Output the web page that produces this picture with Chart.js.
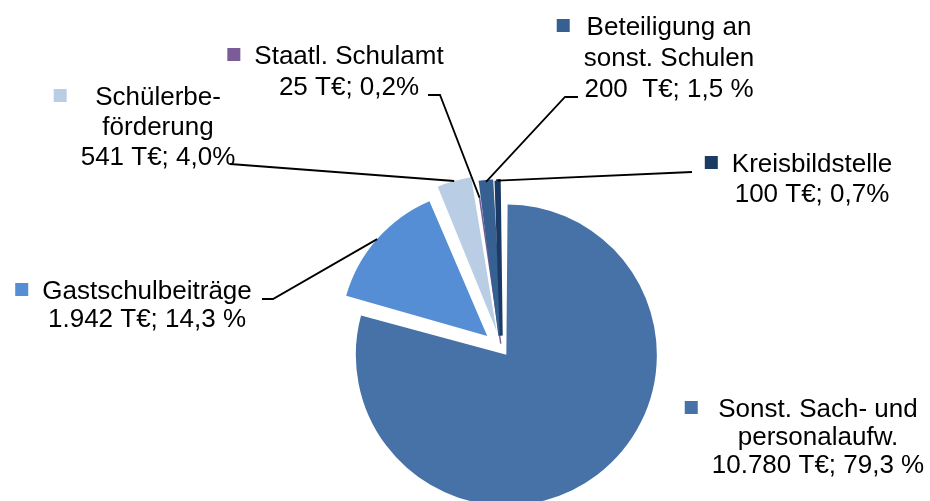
<!DOCTYPE html>
<html>
<head>
<meta charset="utf-8">
<script src="https://cdn.jsdelivr.net/npm/chart.js@4/dist/chart.umd.min.js"></script>
<style>
  html, body { margin: 0; padding: 0; background: #ffffff; overflow: hidden; }
  #wrap { position: relative; width: 930px; height: 501px; }
</style>
</head>
<body>
<div id="wrap"><canvas id="c" width="930" height="501"></canvas></div>
<script>
// ---- data ----
const categories = ['Sonst. Sach- und personalaufw.', 'Gastschulbeiträge', 'Schülerbeförderung',
                    'Staatl. Schulamt', 'Beteiligung an sonst. Schulen', 'Kreisbildstelle'];
const values = [10780, 1942, 541, 25, 200, 100];
const labelLines = [
  ['Sonst. Sach- und', 'personalaufw.', '10.780 T€; 79,3 %'],
  ['Gastschulbeiträge', '1.942 T€; 14,3 %'],
  ['Schülerbe-', 'förderung', '541 T€; 4,0%'],
  ['Staatl. Schulamt', '25 T€; 0,2%'],
  ['Beteiligung an', 'sonst. Schulen', '200  T€; 1,5 %'],
  ['Kreisbildstelle', '100 T€; 0,7%']
];
const colors = ['#4672A8', '#558ED5', '#B9CDE5', '#7A5C98', '#376092', '#1B3A64'];
const explode = [32, 76, 72, 20, 52, 52];

// ---- label layout (positions only) ----
const labelLayout = [
  { cx: 818, y: 417, lh: 28, leader: null },
  { cx: 147, y: 299, lh: 28, leader: [[262, 299], [273, 299]] },
  { cx: 158, y: 105, lh: 30, leader: [[230, 164]] },
  { cx: 349, y: 64, lh: 31, leader: [[428, 95], [440, 95]] },
  { cx: 669, y: 35, lh: 31, leader: [[578, 97], [565, 97]] },
  { cx: 812, y: 172, lh: 30, leader: [[692, 172]] }
];

const FONT = '26px "Liberation Sans", Arial, Helvetica, sans-serif';

const labelPlugin = {
  id: 'sliceLabels',
  afterDatasetsDraw(chart) {
    const ctx = chart.ctx;
    const meta = chart.getDatasetMeta(0);
    ctx.save();
    ctx.font = FONT;
    ctx.textAlign = 'center';
    ctx.textBaseline = 'alphabetic';
    meta.data.forEach((arc, i) => {
      const L = labelLayout[i];
      const lines = labelLines[i];
      // leader line to the slice rim at its mid angle
      if (L.leader) {
        const p = arc.getProps(['x', 'y', 'startAngle', 'endAngle', 'outerRadius', 'circumference'], true);
        const off = (arc.options.offset || 0) / 4;
        const fix = 1 - Math.sin(Math.min(Math.PI, p.circumference));
        const mid = (p.startAngle + p.endAngle) / 2;
        const cxA = p.x + Math.cos(mid) * off;
        const cyA = p.y + Math.sin(mid) * off;
        const r = p.outerRadius + off * fix;
        const ax = cxA + Math.cos(mid) * r;
        const ay = cyA + Math.sin(mid) * r;
        ctx.beginPath();
        ctx.strokeStyle = '#000000';
        ctx.lineWidth = 1.8;
        ctx.moveTo(L.leader[0][0], L.leader[0][1]);
        for (let k = 1; k < L.leader.length; k++) ctx.lineTo(L.leader[k][0], L.leader[k][1]);
        ctx.lineTo(ax, ay);
        ctx.stroke();
      }
      // text block
      let maxW = 0;
      lines.forEach(t => { maxW = Math.max(maxW, ctx.measureText(t).width); });
      ctx.fillStyle = '#000000';
      lines.forEach((t, k) => ctx.fillText(t, L.cx, L.y + k * L.lh));
      // legend key
      const size = 13;
      const mx = L.cx - maxW / 2 - 14 - size;
      ctx.fillStyle = colors[i];
      ctx.fillRect(mx, L.y - 3 - size, size, size);
    });
    ctx.restore();
  }
};

new Chart(document.getElementById('c'), {
  type: 'pie',
  data: {
    labels: categories,
    datasets: [{
      data: values,
      backgroundColor: colors,
      borderWidth: [0, 0, 0, 1.4, 4, 3],
      borderColor: colors,
      borderJoinStyle: 'miter',
      offset: explode,
      hoverOffset: 0,
      radius: 142.5
    }]
  },
  options: {
    responsive: false,
    animation: false,
    devicePixelRatio: 1,
    layout: { padding: { left: 73, right: 0, top: 196, bottom: 0 } },
    plugins: {
      legend: { display: false },
      tooltip: { enabled: false }
    },
    events: []
  },
  plugins: [labelPlugin]
});
</script>
</body>
</html>
